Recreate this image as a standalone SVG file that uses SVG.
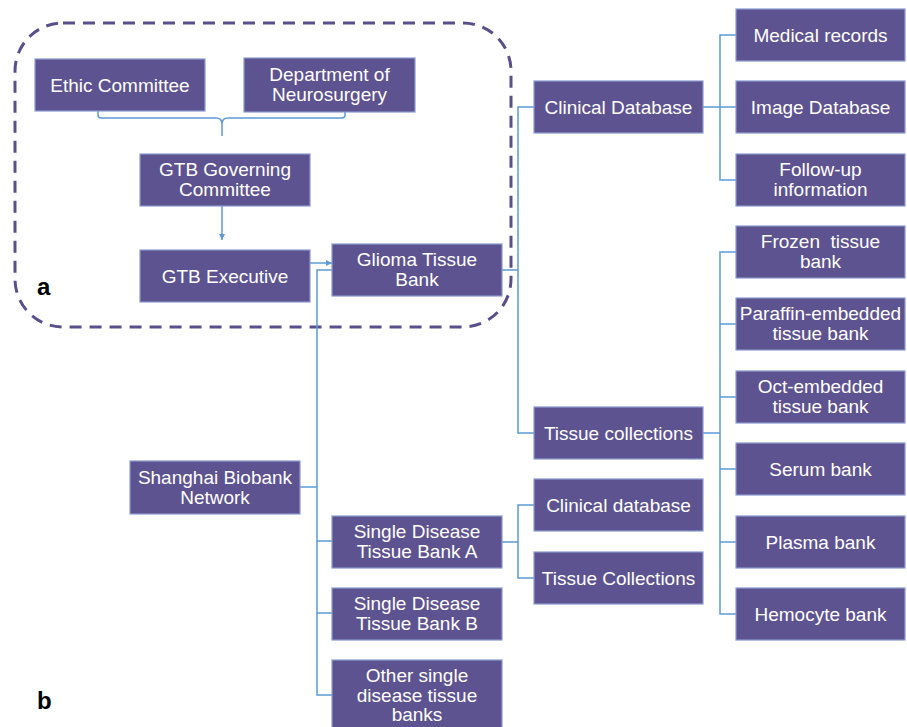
<svg xmlns="http://www.w3.org/2000/svg" width="907" height="727" viewBox="0 0 907 727">
<style>
.n rect{fill:#5E5391;stroke:#8A9ACF;stroke-width:1.2}
.n text{fill:#fff;font-family:"Liberation Sans",Arial,sans-serif;font-size:19px;text-anchor:middle}
.c{fill:none;stroke:#5B9BD5;stroke-width:1.5}
.lbl{font-family:"Liberation Sans",Arial,sans-serif;font-size:24px;font-weight:bold;fill:#000}
</style>
<defs>
<marker id="ah" viewBox="0 0 10 10" refX="10" refY="5" markerWidth="6" markerHeight="6" orient="auto" markerUnits="userSpaceOnUse"><path d="M0,0 L10,5 L0,10 z" fill="#5B9BD5"/></marker>
</defs>
<rect x="15" y="23" width="496" height="304" rx="48" ry="48" fill="none" stroke="#5B4E8C" stroke-width="3" stroke-dasharray="12 8"/>
<text class="lbl" x="37" y="295">a</text>
<text class="lbl" x="37" y="709">b</text>
<g id="connectors">
<path class="c" d="M98,103 V115 Q98,118 101,118 H216 Q222,118 222,124 V136 M222,124 Q222,118 228,118 H342 Q345,118 345,115 V103"/>
<path class="c" d="M222,206 V240" marker-end="url(#ah)"/>
<path class="c" d="M310,263 H332" marker-end="url(#ah)"/>
<path class="c" d="M332,270 H317 V695 H332 M300,487 H317 M317,541 H332 M317,613 H332"/>
<path class="c" d="M502,270 H518 M534,107 H518 V433 H534"/>
<path class="c" d="M703,107 H736 M736,35 H720 V180 H736"/>
<path class="c" d="M703,433 H720 M736,252 H720 V614 H736 M720,324 H736 M720,397 H736 M720,469 H736 M720,542 H736"/>
<path class="c" d="M502,542 H518 M534,505 H518 V578 H534"/>
</g>
<g id="ethic" class="n"><rect x="35" y="59" width="170" height="52"/><text x="120" y="91.5">Ethic Committee</text></g>
<g id="neuro" class="n"><rect x="244" y="58" width="171" height="54"/><text x="329.5" y="81">Department of</text><text x="329.5" y="101">Neurosurgery</text></g>
<g id="governing" class="n"><rect x="140" y="154" width="170" height="52"/><text x="225" y="176">GTB Governing</text><text x="225" y="196">Committee</text></g>
<g id="executive" class="n"><rect x="140" y="250" width="170" height="52"/><text x="225" y="282.5">GTB Executive</text></g>
<g id="glioma" class="n"><rect x="332" y="244" width="170" height="52"/><text x="417" y="266">Glioma Tissue</text><text x="417" y="286">Bank</text></g>
<g id="clinical" class="n"><rect x="534" y="81" width="169" height="52"/><text x="618.5" y="113.5">Clinical Database</text></g>
<g id="tissuecoll" class="n"><rect x="534" y="407" width="169" height="52"/><text x="618.5" y="439.5">Tissue collections</text></g>
<g id="medical" class="n"><rect x="736" y="9" width="169" height="52"/><text x="820.5" y="41.5">Medical records</text></g>
<g id="image" class="n"><rect x="736" y="81" width="169" height="52"/><text x="820.5" y="113.5">Image Database</text></g>
<g id="followup" class="n"><rect x="736" y="154" width="169" height="52"/><text x="820.5" y="176">Follow-up</text><text x="820.5" y="196">information</text></g>
<g id="frozen" class="n"><rect x="736" y="226" width="169" height="52"/><text x="820.5" y="248" xml:space="preserve">Frozen  tissue</text><text x="820.5" y="268">bank</text></g>
<g id="paraffin" class="n"><rect x="736" y="298" width="169" height="52"/><text x="820.5" y="320">Paraffin-embedded</text><text x="820.5" y="340">tissue bank</text></g>
<g id="oct" class="n"><rect x="736" y="371" width="169" height="52"/><text x="820.5" y="393">Oct-embedded</text><text x="820.5" y="413">tissue bank</text></g>
<g id="serum" class="n"><rect x="736" y="443" width="169" height="52"/><text x="820.5" y="475.5">Serum bank</text></g>
<g id="plasma" class="n"><rect x="736" y="516" width="169" height="52"/><text x="820.5" y="548.5">Plasma bank</text></g>
<g id="hemocyte" class="n"><rect x="736" y="588" width="169" height="52"/><text x="820.5" y="620.5">Hemocyte bank</text></g>
<g id="shanghai" class="n"><rect x="130" y="461" width="170" height="53"/><text x="215" y="483.5">Shanghai Biobank</text><text x="215" y="503.5">Network</text></g>
<g id="sdA" class="n"><rect x="332" y="516" width="170" height="52"/><text x="417" y="538">Single Disease</text><text x="417" y="558">Tissue Bank A</text></g>
<g id="sdB" class="n"><rect x="332" y="588" width="170" height="52"/><text x="417" y="610">Single Disease</text><text x="417" y="630">Tissue Bank B</text></g>
<g id="other" class="n"><rect x="332" y="660" width="170" height="72"/><text x="417" y="682">Other single</text><text x="417" y="702">disease tissue</text><text x="417" y="721">banks</text></g>
<g id="clinicalA" class="n"><rect x="534" y="479" width="169" height="52"/><text x="618.5" y="511.5">Clinical database</text></g>
<g id="tissueA" class="n"><rect x="534" y="552" width="169" height="52"/><text x="618.5" y="584.5">Tissue Collections</text></g>
</svg>
